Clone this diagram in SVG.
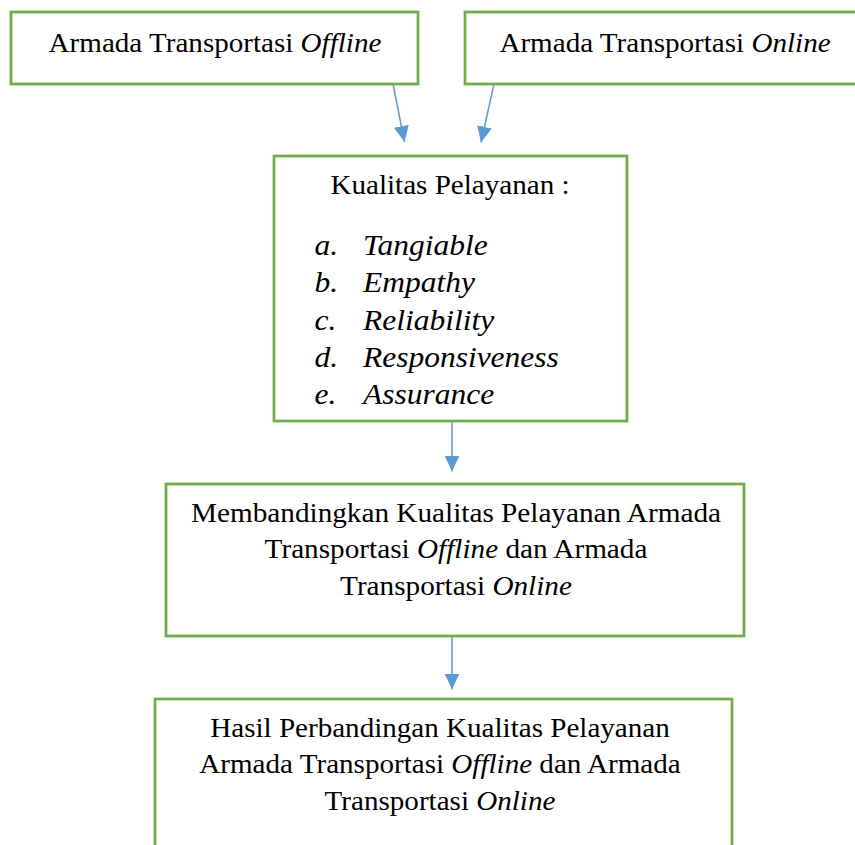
<svg xmlns="http://www.w3.org/2000/svg" width="855" height="845" viewBox="0 0 855 845">
<style>
.box{fill:#fff;stroke:#70AD47;stroke-width:2.75}
.t{font-family:"Liberation Serif","Times New Roman",serif;font-size:26.7px;fill:#000}
.l{font-size:28.5px}
.c{text-anchor:middle}
.i{font-style:italic}
.conn{stroke:#5B9BD5;stroke-width:1.5;fill:none}
</style>
<defs>
<marker id="arr" viewBox="0 0 16 15" refX="16" refY="7.5" markerWidth="16" markerHeight="15" markerUnits="userSpaceOnUse" orient="auto">
<path d="M0,0 L16,7.5 L0,15 z" fill="#5B9BD5"/>
</marker>
</defs>
<rect width="855" height="845" fill="#fff"/>
<g id="connectors">
<line class="conn" x1="393" y1="84" x2="404.5" y2="142" marker-end="url(#arr)"/>
<line class="conn" x1="494" y1="84" x2="481" y2="142.5" marker-end="url(#arr)"/>
<line class="conn" x1="452" y1="422" x2="452" y2="471.5" marker-end="url(#arr)"/>
<line class="conn" x1="452" y1="637" x2="452" y2="689.5" marker-end="url(#arr)"/>
</g>
<g id="offline">
<rect class="box" x="11" y="12" width="407" height="72"/>
<g transform="translate(215,0) scale(1.09,1)"><text class="t c" x="0" y="51.7">Armada Transportasi <tspan class="i">Offline</tspan></text></g>
</g>
<g id="online">
<rect class="box" x="465" y="12" width="400" height="72"/>
<g transform="translate(665,0) scale(1.09,1)"><text class="t c" x="0" y="51.7">Armada Transportasi <tspan class="i">Online</tspan></text></g>
</g>
<g id="kualitas">
<rect class="box" x="274" y="156" width="353" height="265"/>
<g transform="translate(450,0) scale(1.09,1)"><text class="t c" x="0" y="194.5">Kualitas Pelayanan :</text></g>
<g transform="translate(314.5,0) scale(1.105,1)">
<text class="t l i" x="0" y="255">a.</text><text class="t l i" x="43.9" y="255">Tangiable</text>
<text class="t l i" x="0" y="292">b.</text><text class="t l i" x="43.9" y="292">Empathy</text>
<text class="t l i" x="0" y="330">c.</text><text class="t l i" x="43.9" y="330">Reliability</text>
<text class="t l i" x="0" y="367">d.</text><text class="t l i" x="43.9" y="367">Responsiveness</text>
<text class="t l i" x="0" y="404">e.</text><text class="t l i" x="43.9" y="404">Assurance</text>
</g>
</g>
<g id="membandingkan">
<rect class="box" x="166" y="484" width="578" height="152"/>
<g transform="translate(456,0) scale(1.095,1)">
<text class="t c" x="0" y="522">Membandingkan Kualitas Pelayanan Armada</text>
<text class="t c" x="0" y="558">Transportasi <tspan class="i">Offline</tspan> dan Armada</text>
<text class="t c" x="0" y="595">Transportasi <tspan class="i">Online</tspan></text>
</g>
</g>
<g id="hasil">
<rect class="box" x="155" y="699" width="577" height="170"/>
<g transform="translate(440,0) scale(1.09,1)">
<text class="t c" x="0" y="737">Hasil Perbandingan Kualitas Pelayanan</text>
<text class="t c" x="0" y="773">Armada Transportasi <tspan class="i">Offline</tspan> dan Armada</text>
<text class="t c" x="0" y="810">Transportasi <tspan class="i">Online</tspan></text>
</g>
</g>
</svg>
